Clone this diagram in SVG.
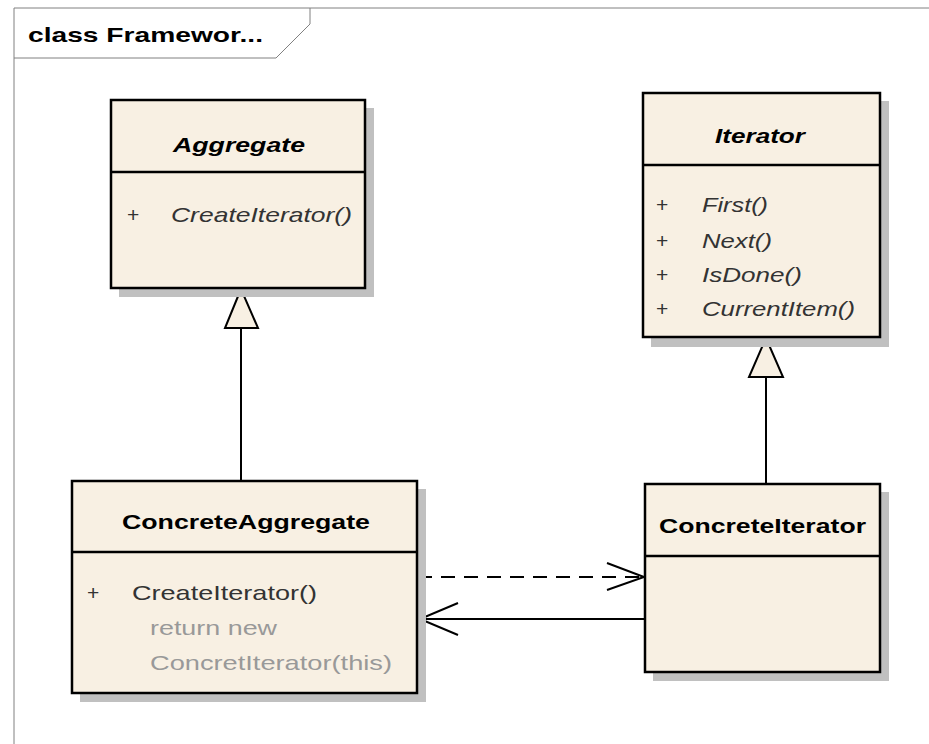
<svg xmlns="http://www.w3.org/2000/svg" width="929" height="744" viewBox="0 0 929 744">
<defs>
<style>
.frame{fill:none;stroke:#808080;stroke-width:1}
.shadow{fill:#c0c0c0}
.box{fill:#f8f0e3;stroke:#000;stroke-width:2.5}
.div{stroke:#000;stroke-width:2.5}
.title{font-family:"Liberation Sans",Arial,sans-serif;font-size:21px;font-weight:bold;fill:#000}
.it{font-style:italic}
.m{font-family:"Liberation Sans",Arial,sans-serif;font-size:21px;fill:#333}
.code{font-family:"Liberation Sans",Arial,sans-serif;font-size:21px;fill:#999}
.ftitle{font-family:"Liberation Sans",Arial,sans-serif;font-size:21px;font-weight:bold;fill:#000}
.edge{fill:none;stroke:#000;stroke-width:2}
.tri{fill:#f8f0e3;stroke:#000;stroke-width:2}
</style>
</defs>
<rect width="929" height="744" fill="#fff"/>
<g id="frame">
<path class="frame" d="M14,744 V8 H929"/>
<path class="frame" d="M14,58 H276 L310,24 V8"/>
<text class="ftitle" x="28" y="42" textLength="235" lengthAdjust="spacingAndGlyphs">class Framewor...</text>
</g>
<g id="connectors">
<line class="edge" x1="241" y1="328" x2="241" y2="481"/>
<polygon class="tri" points="241,289 225,328 258,328"/>
<line class="edge" x1="766" y1="377" x2="766" y2="484"/>
<polygon class="tri" points="766,338 749,377 783,377"/>
<line class="edge" x1="418" y1="577" x2="644" y2="577" stroke-dasharray="14,9"/>
<polyline class="edge" points="607,563 644,577 607,590"/>
<line class="edge" x1="645" y1="619" x2="420" y2="619"/>
<polyline class="edge" points="458,603 420,619 458,635"/>
</g>
<g id="Aggregate">
<rect class="shadow" x="119" y="108" width="255" height="189"/>
<rect class="box" x="111" y="100" width="254" height="188"/>
<line class="div" x1="111" y1="172" x2="365" y2="172"/>
<text class="title it" x="173" y="152" textLength="132" lengthAdjust="spacingAndGlyphs">Aggregate</text>
<text class="m" x="127" y="222">+</text>
<text class="m it" x="171" y="222" textLength="181" lengthAdjust="spacingAndGlyphs">CreateIterator()</text>
</g>
<g id="Iterator">
<rect class="shadow" x="651" y="101" width="238" height="246"/>
<rect class="box" x="643" y="93" width="237" height="244"/>
<line class="div" x1="643" y1="165" x2="880" y2="165"/>
<text class="title it" x="715" y="143" textLength="90" lengthAdjust="spacingAndGlyphs">Iterator</text>
<text class="m" x="656" y="212">+</text>
<text class="m it" x="702" y="212" textLength="66" lengthAdjust="spacingAndGlyphs">First()</text>
<text class="m" x="656" y="248">+</text>
<text class="m it" x="702" y="248" textLength="70" lengthAdjust="spacingAndGlyphs">Next()</text>
<text class="m" x="656" y="282">+</text>
<text class="m it" x="702" y="282" textLength="100" lengthAdjust="spacingAndGlyphs">IsDone()</text>
<text class="m" x="656" y="316">+</text>
<text class="m it" x="702" y="316" textLength="153" lengthAdjust="spacingAndGlyphs">CurrentItem()</text>
</g>
<g id="ConcreteAggregate">
<rect class="shadow" x="80" y="489" width="346" height="213"/>
<rect class="box" x="72" y="481" width="345" height="212"/>
<line class="div" x1="72" y1="552" x2="417" y2="552"/>
<text class="title" x="122" y="529" textLength="248" lengthAdjust="spacingAndGlyphs">ConcreteAggregate</text>
<text class="m" x="87" y="600">+</text>
<text class="m" x="132" y="600" textLength="185" lengthAdjust="spacingAndGlyphs">CreateIterator()</text>
<text class="code" x="150" y="635" textLength="127" lengthAdjust="spacingAndGlyphs">return new</text>
<text class="code" x="150" y="670" textLength="242" lengthAdjust="spacingAndGlyphs">ConcretIterator(this)</text>
</g>
<g id="ConcreteIterator">
<rect class="shadow" x="653" y="492" width="236" height="189"/>
<rect class="box" x="645" y="484" width="235" height="188"/>
<line class="div" x1="645" y1="556" x2="880" y2="556"/>
<text class="title" x="659" y="533" textLength="207" lengthAdjust="spacingAndGlyphs">ConcreteIterator</text>
</g>
</svg>
